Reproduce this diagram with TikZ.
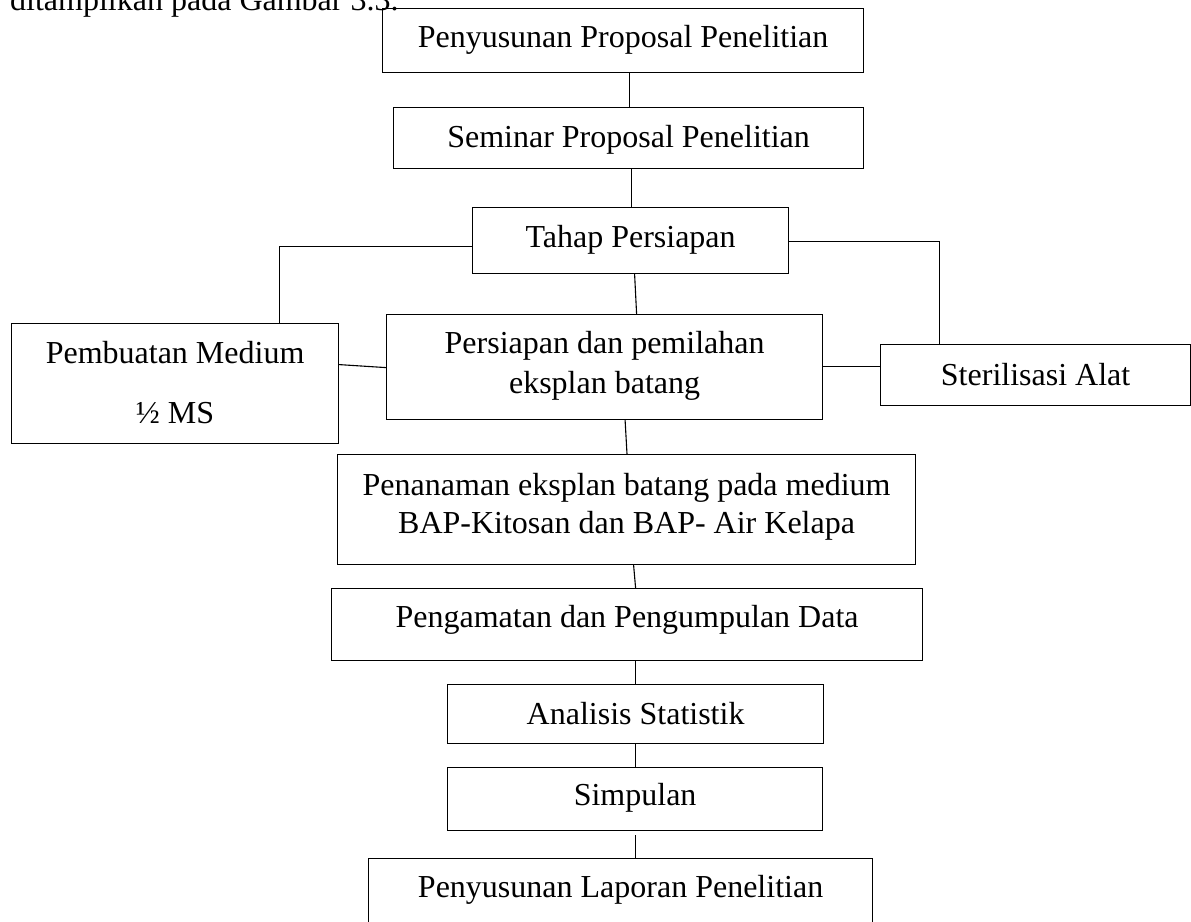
\documentclass[tikz,border=0pt]{standalone}
\usepackage{fontspec}
\setmainfont{Liberation Serif}
\newcommand\twoln[3]{\vtop{\baselineskip=#1\lineskiplimit=-100pt\lineskip=0pt\halign{\hfil##\hfil\cr #2\cr #3\cr}}}
\tikzset{
  box/.style={draw, line width=1.2pt, inner sep=0pt, anchor=north west,
    font=\fontsize{32pt}{38pt}\selectfont},
  conn/.style={draw, line width=1.1pt},
  plain/.style={inner sep=0pt, font=\fontsize{32pt}{38pt}\selectfont}
}
\begin{document}
\begin{tikzpicture}[x=1pt,y=-1pt]
\useasboundingbox (0,0) rectangle (1191,921);
\clip (0,0) rectangle (1191,921);
\fill[white] (0,0) rectangle (1191,921);

\node[plain, anchor=base west] (cap) at (10,10) {ditampilkan pada Gambar 3.3.};

\node[box, minimum width=481pt, minimum height=64pt, text height=39pt, text depth=25pt] (b1) at (382,8) {Penyusunan Proposal Penelitian};
\node[box, minimum width=470pt, minimum height=61pt, text height=40pt, text depth=21pt] (b2) at (393,107) {Seminar Proposal Penelitian};
\node[box, minimum width=316pt, minimum height=66pt, text height=40pt, text depth=26pt] (b3) at (472,207) {Tahap Persiapan};
\node[box, minimum width=436pt, minimum height=105pt, text height=39pt, text depth=66pt] (b4) at (386,314) {\twoln{40pt}{Persiapan dan pemilahan}{eksplan batang}};
\node[box, minimum width=327pt, minimum height=120pt, text height=40pt, text depth=80pt] (b5) at (11,323) {\twoln{60pt}{Pembuatan Medium}{½ MS}};
\node[box, minimum width=310pt, minimum height=61pt, text height=41pt, text depth=20pt] (b6) at (880,344) {Sterilisasi Alat};
\node[box, minimum width=578pt, minimum height=110pt, text height=41pt, text depth=69pt] (b7) at (337,454) {\twoln{38pt}{Penanaman eksplan batang pada medium}{BAP-Kitosan dan BAP- Air Kelapa}};
\node[box, minimum width=591pt, minimum height=72pt, text height=39pt, text depth=33pt] (b8) at (331,588) {Pengamatan dan Pengumpulan Data};
\node[box, minimum width=376pt, minimum height=59pt, text height=40pt, text depth=19pt] (b9) at (447,684) {Analisis Statistik};
\node[box, minimum width=375pt, minimum height=63pt, text height=38pt, text depth=25pt] (b10) at (447,767) {Simpulan};
\node[box, minimum width=504pt, minimum height=92pt, text height=39pt, text depth=53pt] (b11) at (368,858) {Penyusunan Laporan Penelitian};

\draw[conn] ([xshift=6.5pt]b1.south) -- ([xshift=1pt]b2.north);
\draw[conn] ([xshift=3pt]b2.south) -- ([xshift=1pt]b3.north);
\draw[conn] ([xshift=4pt]b3.south) -- ([xshift=32pt]b4.north);
\draw[conn] ([yshift=-6pt]b3.west) -| ([xshift=104.5pt]b5.north);
\draw[conn] ([yshift=-1pt]b3.east) -| ([xshift=-96pt]b6.north);
\draw[conn] ([yshift=19pt]b5.east) -- ([yshift=-0.5pt]b4.west);
\draw[conn] ([yshift=0.5pt]b4.east) -- ([yshift=8.5pt]b6.west);
\draw[conn] ([xshift=20.5pt]b4.south) -- ([xshift=0.4pt]b7.north);
\draw[conn] ([xshift=7pt]b7.south) -- ([xshift=8.5pt]b8.north);
\draw[conn] ([xshift=8.5pt]b8.south) -- (b9.north);
\draw[conn] (b9.south) -- ([xshift=0.5pt]b10.north);
\draw[conn] ([xshift=0.5pt,yshift=-4pt]b10.south) -- ([xshift=15pt]b11.north);
\end{tikzpicture}
\end{document}
